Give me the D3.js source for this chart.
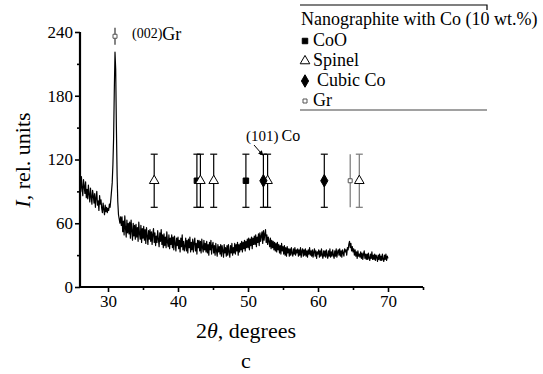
<!DOCTYPE html>
<html><head><meta charset="utf-8">
<script src="https://cdn.jsdelivr.net/npm/d3@7"></script>
<style>body{margin:0;background:#fff}svg{display:block}svg text{font-family:"Liberation Serif","Times New Roman","DejaVu Serif",serif}</style>
</head><body><svg id="c" width="543" height="374"></svg>
<script>
// scan grid: 26.0 .. 70.0 deg, step 0.1
const scanStart = 26, scanStep = 0.1;
const intensity = [
 98, 90,104, 93, 86,101, 95, 88, 99, 84,
 92, 83, 96, 87, 80, 93, 85, 78, 91, 86,
 79, 88, 75, 84, 90, 77, 81, 72, 86, 78,
 82, 74, 70, 79, 73, 68, 77, 71, 75, 70,
 74, 72, 78, 75, 82, 90, 98,115,140,185,
221,205,150,105, 80, 68, 64, 60, 66, 58,
 66, 52, 62, 49, 67, 55, 47, 63, 51, 60,
 50, 61, 46, 63, 53, 44, 60, 48, 58, 45,
 59, 47, 56, 43, 61, 50, 45, 58, 42, 55,
 46, 57, 44, 54, 41, 56, 48, 40, 53, 45,
 54, 43, 52, 40, 50, 55, 42, 51, 39, 48,
 42, 53, 45, 38, 51, 43, 54, 40, 49, 37,
 50, 39, 47, 37, 52, 42, 38, 49, 36, 46,
 40, 49, 37, 47, 35, 48, 41, 34, 46, 39,
 47, 36, 44, 33, 46, 38, 49, 35, 43, 34,
 38, 46, 34, 44, 32, 45, 37, 47, 33, 42,
 35, 45, 33, 42, 46, 34, 41, 31, 44, 37,
 44, 34, 43, 32, 45, 37, 33, 44, 35, 41,
 33, 43, 32, 40, 30, 42, 35, 44, 31, 39,
 42, 32, 39, 30, 41, 34, 29, 40, 33, 38,
 31, 40, 29, 39, 34, 28, 40, 32, 37, 29,
 39, 30, 40, 33, 28, 39, 32, 41, 30, 37,
 32, 41, 31, 40, 34, 42, 30, 40, 33, 41,
 35, 43, 33, 42, 36, 44, 34, 43, 37, 45,
 37, 46, 35, 45, 39, 47, 36, 46, 40, 48,
 40, 49, 38, 47, 42, 50, 39, 51, 43, 48,
 52, 41, 53, 44, 50, 54, 42, 49, 40, 47,
 43, 38, 46, 36, 44, 37, 43, 35, 42, 34,
 41, 33, 42, 35, 40, 32, 39, 31, 41, 34,
 38, 31, 39, 30, 37, 29, 38, 32, 36, 29,
 36, 30, 37, 32, 29, 36, 31, 37, 30, 35,
 32, 36, 29, 35, 30, 37, 28, 34, 36, 29,
 35, 30, 36, 29, 34, 28, 35, 31, 37, 30,
 34, 29, 35, 28, 33, 36, 29, 34, 27, 33,
 31, 35, 28, 34, 29, 36, 30, 27, 34, 29,
 34, 28, 35, 30, 27, 34, 29, 36, 28, 33,
 29, 35, 30, 27, 34, 29, 36, 28, 33, 35,
 30, 36, 29, 34, 28, 35, 32, 29, 36, 33,
 35, 30, 37, 35, 40, 43, 37, 41, 34, 38,
 33, 36, 30, 35, 29, 33, 27, 34, 29, 31,
 28, 33, 27, 32, 26, 31, 34, 27, 31, 26,
 31, 26, 32, 27, 25, 31, 27, 33, 26, 30,
 26, 31, 25, 30, 28, 24, 30, 26, 31, 25,
 29, 25, 31, 26, 24, 30, 26, 31, 25, 29,
 27
];
const angles = d3.range(intensity.length).map(i => +(scanStart + i * scanStep).toFixed(1));

const coO     = [42.7, 49.7];
const spinel  = [36.6, 43.2, 45.1, 52.8, 65.9];
const cubicCo = [52.2, 60.9];
const grLines = [64.6];
const grPeak  = {angle: 31.0, value: 236, err: 8};
const markerLevel = 100, markerErr = 25;

const xTicks = [30, 40, 50, 60, 70], xMinor = [35, 45, 55, 65, 75];
const yTicks = [0, 60, 120, 180, 240], yMinor = [30, 90, 150, 210];
const legendTitle = "Nanographite with Co (10 wt.%)";
const legendItems = ["CoO", "Spinel", "Cubic Co", "Gr"];

const svg = d3.select("#c");
const x = d3.scaleLinear().domain([26, 75]).range([80, 423]);
const y = d3.scaleLinear().domain([0, 240]).range([287, 32]);

// axes
const gx = svg.append("g").attr("transform", `translate(0,${y(0)})`)
  .call(d3.axisBottom(x).tickValues(xTicks).tickSize(5).tickPadding(3).tickFormat(d3.format("d")));
const gxm = svg.append("g").attr("transform", `translate(0,${y(0)})`)
  .call(d3.axisBottom(x).tickValues(xMinor).tickSize(3).tickFormat(""));
const gy = svg.append("g").attr("transform", `translate(${x(26)},0)`)
  .call(d3.axisLeft(y).tickValues(yTicks).tickSize(5).tickPadding(2).tickFormat(d3.format("d")));
const gym = svg.append("g").attr("transform", `translate(${x(26)},0)`)
  .call(d3.axisLeft(y).tickValues(yMinor).tickSize(3).tickFormat(""));
[gx, gy].forEach(g => {
  g.attr("font-family", null);
  g.select(".domain").attr("stroke-width", 2.2).attr("stroke", "#000");
  g.selectAll(".tick line").attr("stroke-width", 1.6);
  g.selectAll("text").attr("font-size", 17).attr("fill", "#000");
});
[gxm, gym].forEach(g => {
  g.select(".domain").remove();
  g.selectAll(".tick line").attr("stroke-width", 1.6);
});
gx.select(".domain").attr("d", `M${x(26)},0H${x(75)}`);
gy.select(".domain").attr("d", `M0,${y(240)}V${y(0)}`);

// data line
const line = d3.line().x((d, i) => x(angles[i])).y(d => y(d));
svg.append("path").datum(intensity).attr("d", line)
  .attr("fill", "none").attr("stroke", "#000").attr("stroke-width", 1.2).attr("stroke-linejoin", "round");

// error bars + markers
function errBar(a, lo, hi, caps, color) {
  const g = svg.append("g").attr("stroke", color).attr("stroke-width", 1.2);
  g.append("line").attr("x1", x(a)).attr("x2", x(a)).attr("y1", y(hi)).attr("y2", y(lo));
  if (caps) {
    [lo, hi].forEach(v => g.append("line").attr("x1", x(a) - 3.5).attr("x2", x(a) + 3.5)
      .attr("y1", y(v)).attr("y2", y(v)));
  }
}
const sym = {
  CoO:    {type: d3.symbolSquare,   size: 30, fill: "#000", stroke: "#000"},
  Spinel: {type: d3.symbolTriangle, size: 40, fill: "#fff", stroke: "#000"},
  Cubic:  {type: d3.symbolDiamond,  size: 45, fill: "#000", stroke: "#000"},
  Gr:     {type: d3.symbolSquare,   size: 16, fill: "#fff", stroke: "#555"}
};
function marker(a, v, s) {
  svg.append("path").attr("d", d3.symbol().type(s.type).size(s.size)())
    .attr("transform", `translate(${x(a)},${y(v)})`)
    .attr("fill", s.fill).attr("stroke", s.stroke).attr("stroke-width", 1);
}
coO.forEach(a => errBar(a, markerLevel - markerErr, markerLevel + markerErr, true, "#000"));
spinel.forEach(a => errBar(a, markerLevel - markerErr, markerLevel + markerErr, true, a > 60 ? "#777" : "#000"));
cubicCo.forEach(a => errBar(a, markerLevel - markerErr, markerLevel + markerErr, true, "#000"));
grLines.forEach(a => errBar(a, markerLevel - markerErr, markerLevel + markerErr, false, "#777"));
errBar(grPeak.angle, grPeak.value - grPeak.err, grPeak.value + grPeak.err, false, "#333");

coO.forEach(a => marker(a, markerLevel, sym.CoO));
spinel.forEach(a => marker(a, markerLevel, sym.Spinel));
cubicCo.forEach(a => marker(a, markerLevel, sym.Cubic));
grLines.forEach(a => marker(a, markerLevel, sym.Gr));
marker(grPeak.angle, grPeak.value, sym.Gr);

// annotations
const t1 = svg.append("text").attr("x", x(grPeak.angle) + 17).attr("y", 40).attr("fill", "#000");
t1.append("tspan").attr("font-size", 14).attr("dy", -2).text("(002)");
t1.append("tspan").attr("font-size", 18).attr("dy", 2).text("Gr");
const t2 = svg.append("text").attr("x", 246).attr("y", 141).attr("fill", "#000");
t2.append("tspan").attr("font-size", 15).text("(101)\u2009");
t2.append("tspan").attr("font-size", 16).text("Co");
svg.append("defs").append("marker").attr("id", "ah").attr("viewBox", "0 0 10 10")
  .attr("refX", 9).attr("refY", 5).attr("markerWidth", 5).attr("markerHeight", 5).attr("orient", "auto")
  .append("path").attr("d", "M0,0L10,5L0,10z").attr("fill", "#000");
svg.append("line").attr("x1", 254).attr("y1", 145).attr("x2", x(cubicCo[0]) - 0.5).attr("y2", y(markerLevel + markerErr) + 1)
  .attr("stroke", "#000").attr("stroke-width", 1).attr("marker-end", "url(#ah)");

// axis titles
const xt = svg.append("text").attr("x", 246).attr("y", 338).attr("text-anchor", "middle")
  .attr("font-size", 22).attr("fill", "#000");
xt.append("tspan").text("2");
xt.append("tspan").attr("font-style", "italic").text("\u03B8");
xt.append("tspan").text(", degrees");
svg.append("text").attr("x", 246).attr("y", 368).attr("text-anchor", "middle")
  .attr("font-size", 22).attr("fill", "#000").text("c");
const yt = svg.append("text").attr("transform", "translate(30,160) rotate(-90)").attr("text-anchor", "middle")
  .attr("font-size", 22).attr("fill", "#000");
yt.append("tspan").attr("font-style", "italic").text("I");
yt.append("tspan").text(", rel. units");

// legend
const lg = svg.append("g").attr("font-size", 18).attr("fill", "#000");
lg.append("path").attr("d", "M300,5H487V10").attr("fill", "none").attr("stroke", "#000").attr("stroke-width", 1.2);
lg.append("line").attr("x1", 300).attr("x2", 487).attr("y1", 110).attr("y2", 110).attr("stroke", "#444").attr("stroke-width", 1.2);
lg.append("text").attr("x", 301).attr("y", 25).text(legendTitle);
const legSyms = [sym.CoO, sym.Spinel, sym.Cubic, sym.Gr];
legendItems.forEach((name, i) => {
  const yy = 46 + i * 20;
  lg.append("path").attr("d", d3.symbol().type(legSyms[i].type).size(legSyms[i].size)())
    .attr("transform", `translate(305,${yy - 5})`)
    .attr("fill", legSyms[i].fill).attr("stroke", legSyms[i].stroke).attr("stroke-width", 1);
  lg.append("text").attr("x", 313 + (i === 2 ? 4 : 0)).attr("y", yy).text(name);
});
</script></body></html>
